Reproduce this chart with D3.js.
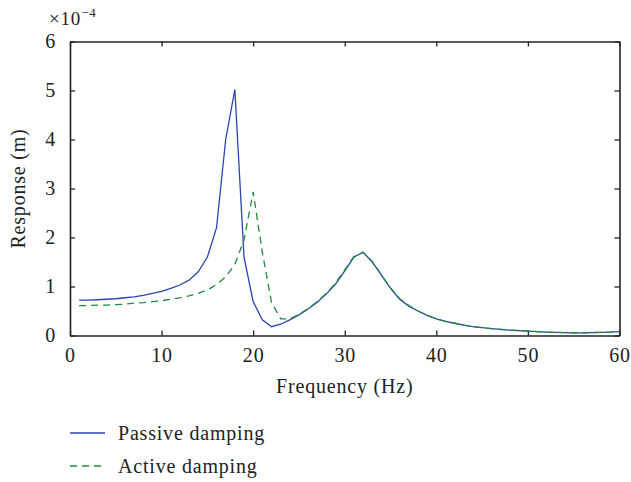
<!DOCTYPE html>
<html>
<head>
<meta charset="utf-8">
<script src="https://cdn.jsdelivr.net/npm/d3@7"></script>
<style>
  body { margin: 0; background: #fff; }
  svg text { font-family: "Liberation Serif", "DejaVu Serif", serif; fill: #222; letter-spacing: 0.8px; }
</style>
</head>
<body>
<div id="chart"></div>
<script>
// frequency samples (Hz)
var freq = d3.range(1, 61);

// response x 1e-4 m
var passive = [0.72, 0.72, 0.73, 0.74, 0.75, 0.77, 0.79, 0.82, 0.86, 0.90,
               0.96, 1.03, 1.13, 1.30, 1.60, 2.20, 4.00, 5.02, 1.60, 0.69,
               0.32, 0.18, 0.23, 0.32, 0.42, 0.54, 0.68, 0.85, 1.05, 1.32,
               1.60, 1.70, 1.50, 1.23, 0.96, 0.74, 0.60, 0.50, 0.41, 0.34,
               0.29, 0.25, 0.21, 0.18, 0.16, 0.14, 0.125, 0.11, 0.10, 0.09,
               0.08, 0.07, 0.065, 0.06, 0.055, 0.055, 0.06, 0.065, 0.07, 0.08];

var active = [0.61, 0.61, 0.62, 0.62, 0.63, 0.64, 0.66, 0.67, 0.69, 0.71,
              0.74, 0.77, 0.81, 0.86, 0.93, 1.04, 1.20, 1.45, 1.95, 2.93,
              1.70, 0.68, 0.34, 0.34, 0.43, 0.55, 0.69, 0.86, 1.07, 1.34,
              1.61, 1.70, 1.51, 1.24, 0.97, 0.75, 0.61, 0.50, 0.41, 0.34,
              0.29, 0.25, 0.21, 0.18, 0.16, 0.14, 0.125, 0.11, 0.10, 0.09,
              0.08, 0.07, 0.065, 0.06, 0.055, 0.055, 0.06, 0.065, 0.07, 0.08];

var xTicks = [0, 10, 20, 30, 40, 50, 60];
var yTicks = [0, 1, 2, 3, 4, 5, 6];

var seriesNames = ["Passive damping", "Active damping"];

var width = 631, height = 482;
var margin = {top: 41.5, right: 11.5, bottom: 146.5, left: 70};
var w = width - margin.left - margin.right,
    h = height - margin.top - margin.bottom;

var svg = d3.select("#chart").append("svg")
    .attr("width", width)
    .attr("height", height);

var g = svg.append("g")
    .attr("transform", "translate(" + margin.left + "," + margin.top + ")");

var x = d3.scaleLinear().domain([0, 60]).range([0, w]);
var y = d3.scaleLinear().domain([0, 6]).range([h, 0]);

// axes with inward ticks on all four sides
var tickLen = 5;
var axisColor = "#222";

function styleAxis(sel) {
  sel.select(".domain").attr("stroke", axisColor).attr("stroke-width", 1.6);
  sel.selectAll(".tick line").attr("stroke", axisColor).attr("stroke-width", 1.3);
  sel.selectAll(".tick text").attr("font-size", "20px").attr("fill", "#222");
}

g.append("g")
    .attr("transform", "translate(0," + h + ")")
    .call(d3.axisBottom(x).tickValues(xTicks).tickSizeInner(-tickLen).tickSizeOuter(0).tickPadding(12))
    .call(styleAxis);

g.append("g")
    .call(d3.axisTop(x).tickValues(xTicks).tickSizeInner(-tickLen).tickSizeOuter(0).tickFormat(""))
    .call(styleAxis);

g.append("g")
    .call(d3.axisLeft(y).tickValues(yTicks).tickFormat(d3.format("d")).tickSizeInner(-tickLen).tickSizeOuter(0).tickPadding(14))
    .call(styleAxis);

g.append("g")
    .attr("transform", "translate(" + w + ",0)")
    .call(d3.axisRight(y).tickValues(yTicks).tickSizeInner(-tickLen).tickSizeOuter(0).tickFormat(""))
    .call(styleAxis);

// exponent label
var expo = svg.append("text")
    .attr("x", 49)
    .attr("y", 25)
    .attr("font-size", "19px");
expo.append("tspan").text("\u00d710");
expo.append("tspan").attr("dy", -8).attr("font-size", "13px").text("\u22124");

// axis titles
svg.append("text")
    .attr("x", margin.left + w / 2)
    .attr("y", 393)
    .attr("text-anchor", "middle")
    .attr("font-size", "20px")
    .text("Frequency (Hz)");

svg.append("text")
    .attr("transform", "translate(25," + (margin.top + h / 2) + ") rotate(-90)")
    .attr("text-anchor", "middle")
    .attr("font-size", "20px")
    .text("Response (m)");

// lines
var line = d3.line()
    .x(function(d, i) { return x(freq[i]); })
    .y(function(d) { return y(d); });

var colors = ["#2a44b0", "#1d8a3e"];
var dashes = [null, "7,5"];

[passive, active].forEach(function(s, k) {
  g.append("path")
    .datum(s)
    .attr("fill", "none")
    .attr("stroke", colors[k])
    .attr("stroke-width", 1.3)
    .attr("stroke-dasharray", dashes[k])
    .attr("d", line);
});

// legend
var legend = svg.append("g");
seriesNames.forEach(function(name, k) {
  var ly = 433 + k * 33;
  legend.append("line")
    .attr("x1", 70).attr("x2", 105)
    .attr("y1", ly).attr("y2", ly)
    .attr("stroke", colors[k])
    .attr("stroke-width", 1.3)
    .attr("stroke-dasharray", dashes[k]);
  legend.append("text")
    .attr("x", 118)
    .attr("y", ly + 7)
    .attr("font-size", "20px")
    .text(name);
});
</script>
</body>
</html>
